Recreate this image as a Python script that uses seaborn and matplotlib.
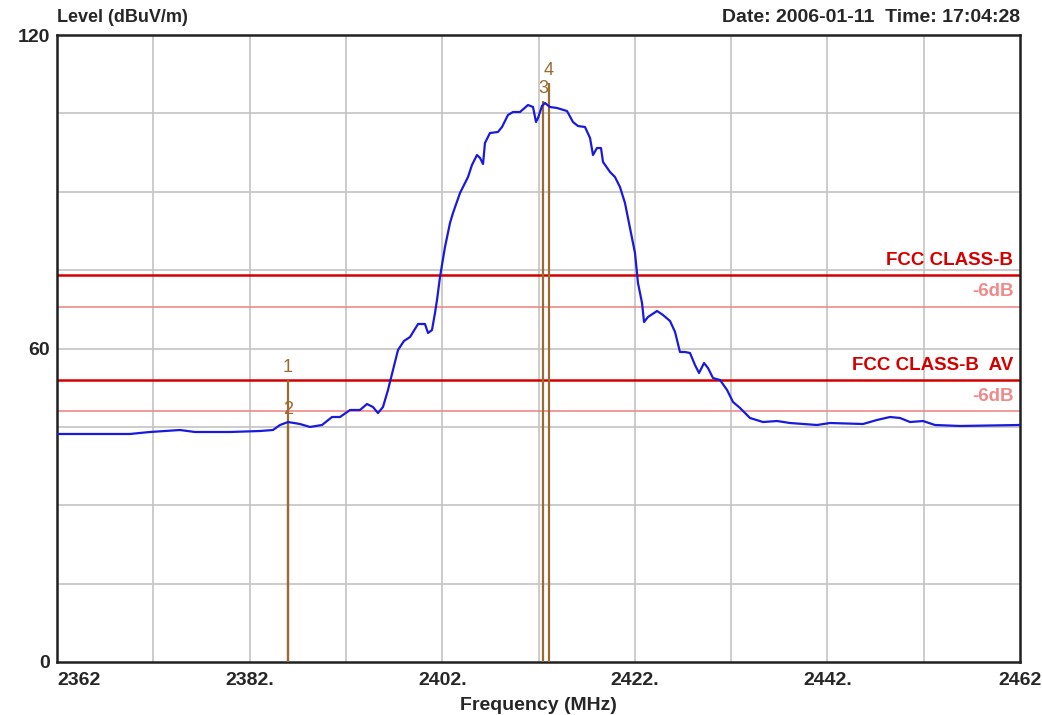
import numpy as np
import pandas as pd
import matplotlib
matplotlib.use("Agg")
import matplotlib.pyplot as plt
import seaborn as sns

# ---- data ----
freq = [2362.00, 2369.58, 2371.66, 2374.77, 2376.33, 2379.96, 2383.08, 2384.43, 2385.16, 2385.99,
        2387.23, 2388.27, 2389.52, 2390.56, 2391.39, 2392.43, 2393.46, 2394.19, 2394.81, 2395.33,
        2395.85, 2396.37, 2396.89, 2397.41, 2398.03, 2398.66, 2399.49, 2400.21, 2400.53, 2400.94,
        2401.25, 2401.46, 2401.77, 2402.29, 2402.81, 2403.12, 2403.85, 2404.16, 2404.68, 2405.09,
        2405.61, 2405.93, 2406.24, 2406.44, 2406.96, 2407.79, 2408.21, 2408.83, 2409.35, 2410.08,
        2410.91, 2411.43, 2411.74, 2411.95, 2412.36, 2412.67, 2413.19, 2413.92, 2414.96, 2415.58,
        2416.10, 2416.83, 2417.35, 2417.66, 2418.07, 2418.49, 2418.70, 2419.43, 2419.94, 2420.46,
        2420.98, 2421.50, 2422.02, 2422.33, 2422.75, 2422.96, 2423.37, 2424.31, 2424.93, 2425.66,
        2426.18, 2426.69, 2427.21, 2427.73, 2428.25, 2428.67, 2429.19, 2429.60, 2430.12, 2430.85,
        2431.58, 2432.20, 2432.93, 2433.96, 2435.31, 2436.77, 2438.12, 2440.92, 2442.27, 2445.70,
        2447.15, 2448.50, 2449.54, 2450.58, 2451.93, 2453.17, 2455.77, 2462.00]
level = [43.64, 43.64, 44.02, 44.40, 44.02, 44.02, 44.21, 44.40, 45.36, 45.93,
         45.55, 44.98, 45.36, 46.89, 46.89, 48.23, 48.23, 49.38, 48.80, 47.65,
         48.80, 52.06, 55.89, 59.71, 61.44, 62.20, 64.69, 64.69, 62.97, 63.54,
         66.79, 69.28, 73.68, 79.43, 84.02, 85.93, 89.76, 90.91, 92.82, 95.12,
         97.03, 96.46, 95.31, 99.33, 101.24, 101.44, 102.39, 104.69, 105.26, 105.26,
         106.60, 106.22, 103.35, 104.11, 106.41, 106.99, 106.22, 106.03, 105.45, 103.35,
         102.58, 102.39, 100.29, 97.03, 98.37, 98.37, 95.69, 93.78, 92.82, 90.91,
         87.85, 83.06, 78.28, 72.54, 68.71, 65.07, 66.03, 67.18, 66.41, 65.26,
         63.16, 59.33, 59.33, 59.14, 56.84, 55.31, 57.22, 56.27, 54.35, 53.97,
         52.06, 49.76, 48.61, 46.70, 45.93, 46.12, 45.74, 45.36, 45.74, 45.55,
         46.32, 46.89, 46.70, 45.93, 46.12, 45.36, 45.17, 45.36]

limit_names = ["FCC CLASS-B", "-6dB", "FCC CLASS-B  AV", "-6dB"]
limit_values = [74, 68, 54, 48]
limit_colors = ["#d40000", "#f08a8a", "#d40000", "#f08a8a"]

marker_ids = ["1", "2", "3", "4"]
marker_freq = [2386.0, 2386.0, 2412.5, 2413.1]
marker_level = [54.0, 45.9, 107.3, 110.8]

x_ticks = [2362, 2382, 2402, 2422, 2442, 2462]
x_tick_labels = ["2362", "2382.", "2402.", "2422.", "2442.", "2462"]
y_ticks = [0, 60, 120]
y_tick_labels = ["0", "60", "120"]

# ---- drawing ----
sns.set_style("white")
plt.rcParams["font.family"] = ["Liberation Sans", "DejaVu Sans"]

fig = plt.figure(figsize=(10.42, 7.15), dpi=100)
ax = fig.add_axes([57 / 1042, 1 - 662 / 715, (1020 - 57) / 1042, (662 - 35) / 715])

ax.set_xlim(2362, 2462)
ax.set_ylim(0, 120)

# grid
for gx in np.arange(2372, 2462, 10):
    ax.axvline(gx, color="#c4c4c4", lw=1.2, zorder=1)
for gy in np.arange(15, 120, 15):
    ax.axhline(gy, color="#c4c4c4", lw=1.2, zorder=1)

# limit lines
for name, val, col in zip(limit_names, limit_values, limit_colors):
    ax.axhline(val, color=col, lw=1.8 if col == "#d40000" else 1.2, zorder=2)
    ax.text(2461.3, val + 1.2, name, color=col, ha="right", va="bottom",
            fontsize=13.5, fontweight="bold", zorder=5)

# markers
mk_color = "#9a6a30"
for mid, mf, ml in zip(marker_ids, marker_freq, marker_level):
    ax.vlines(mf, 0, ml, color=mk_color, lw=1.6, zorder=3)
for mid, mf, ml in zip(marker_ids, marker_freq, marker_level):
    ax.text(mf, ml + 0.8, mid, color=mk_color, ha="center", va="bottom",
            fontsize=13, zorder=6)

# trace
df = pd.DataFrame({"freq": freq, "level": level})
sns.lineplot(data=df, x="freq", y="level", ax=ax, color="#1a1adc", lw=1.6,
             zorder=4, sort=False)

ax.set_xlabel("Frequency (MHz)", fontsize=14, fontweight="bold", labelpad=6)
ax.set_ylabel("")
ax.set_xticks(x_ticks)
ax.set_xticklabels(x_tick_labels, fontsize=14, fontweight="bold")
ax.get_xticklabels()[0].set_horizontalalignment("left")
ax.set_yticks(y_ticks)
ax.set_yticklabels(y_tick_labels, fontsize=14, fontweight="bold")
ax.tick_params(axis="x", length=0, pad=7)
ax.tick_params(axis="y", length=0, pad=5)

for s in ax.spines.values():
    s.set_color("#202020")
    s.set_linewidth(1.8)

fig.text(57 / 1042, 1 - 18 / 715, "Level (dBuV/m)", ha="left", va="center",
         fontsize=13, fontweight="bold")
fig.text(1020 / 1042, 1 - 18 / 715, "Date: 2006-01-11  Time: 17:04:28", ha="right",
         va="center", fontsize=14, fontweight="bold")

fig.savefig("out.png", dpi=100, facecolor="white")
